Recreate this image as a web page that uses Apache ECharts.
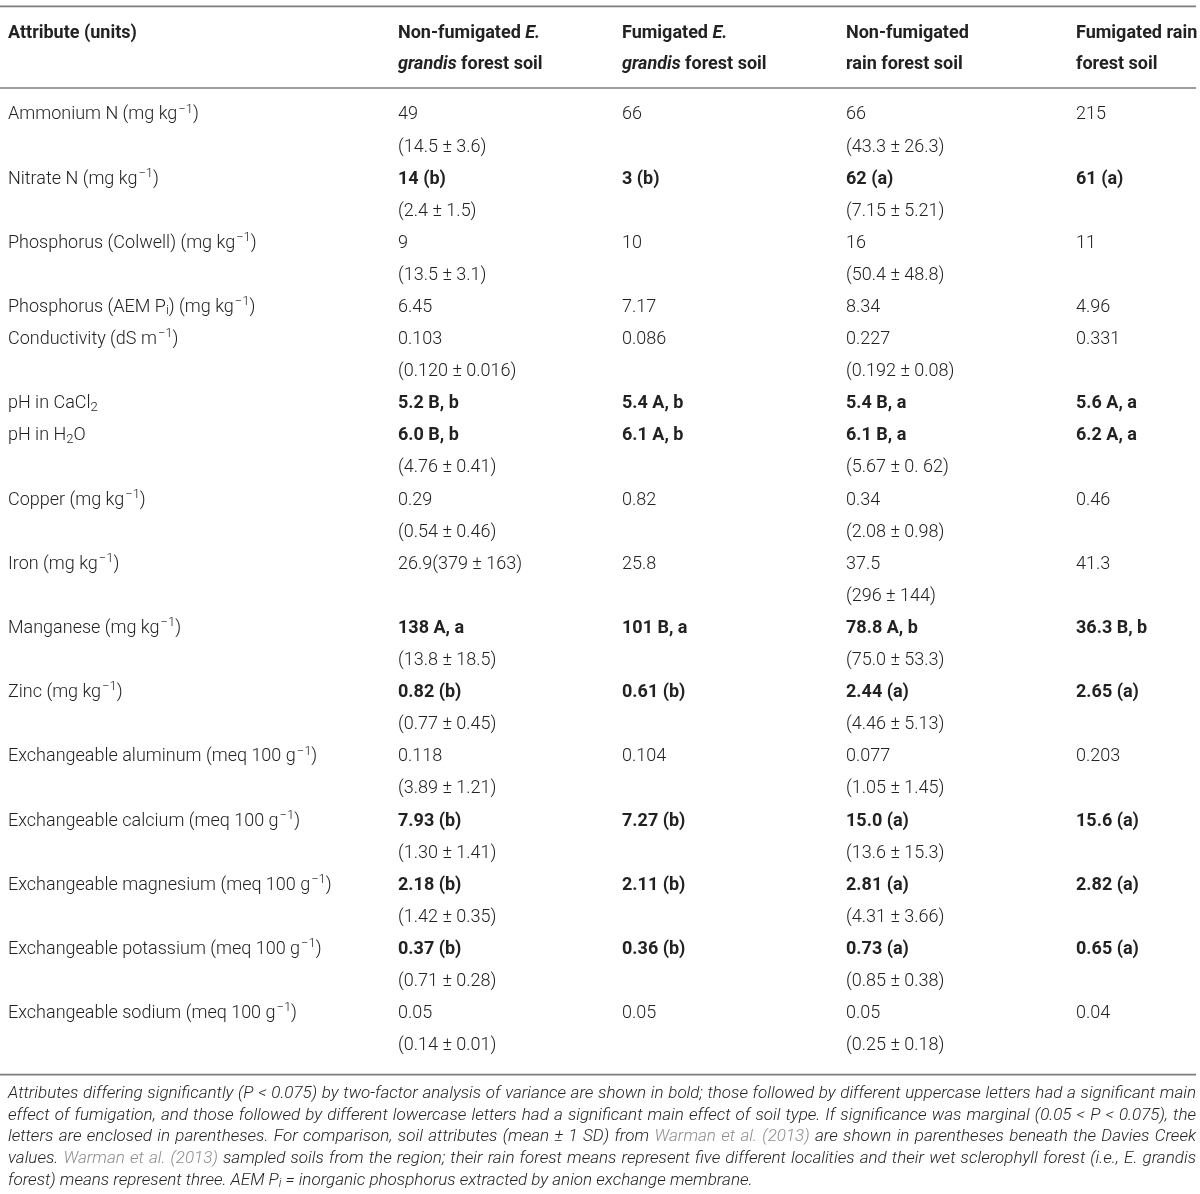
<!DOCTYPE html>
<html>
<head>
<meta charset="utf-8">
<script src="https://cdn.jsdelivr.net/npm/echarts@6/dist/echarts.min.js"></script>
<style>
  html, body { margin: 0; padding: 0; background: #fff; }
  #main { width: 1200px; height: 1194px; }
</style>
</head>
<body>
<div id="main"></div>
<script>
// markup: ^x^ superscript, _x_ subscript, *x* italic
var headers = ['Attribute (units)', 'Non-fumigated *E.*\n*grandis* forest soil', 'Fumigated *E.*\n*grandis* forest soil', 'Non-fumigated\nrain forest soil', 'Fumigated rain\nforest soil'];

var attributes = [
  'Ammonium N (mg kg^−1^)',
  'Nitrate N (mg kg^−1^)',
  'Phosphorus (Colwell) (mg kg^−1^)',
  'Phosphorus (AEM P_i_) (mg kg^−1^)',
  'Conductivity (dS m^−1^)',
  'pH in CaCl_2_',
  'pH in H_2_O',
  'Copper (mg kg^−1^)',
  'Iron (mg kg^−1^)',
  'Manganese (mg kg^−1^)',
  'Zinc (mg kg^−1^)',
  'Exchangeable aluminum (meq 100 g^−1^)',
  'Exchangeable calcium (meq 100 g^−1^)',
  'Exchangeable magnesium (meq 100 g^−1^)',
  'Exchangeable potassium (meq 100 g^−1^)',
  'Exchangeable sodium (meq 100 g^−1^)'
];

// rows shown in bold (significant)
var significant = [false, true, false, false, false, true, true, false, false, true, true, false, true, true, true, false];

var nonFumEuc = ['49', '14 (b)', '9', '6.45', '0.103', '5.2 B, b', '6.0 B, b', '0.29', '26.9(379 ± 163)', '138 A, a', '0.82 (b)', '0.118', '7.93 (b)', '2.18 (b)', '0.37 (b)', '0.05'];
var sdNonFumEuc = ['(14.5 ± 3.6)', '(2.4 ± 1.5)', '(13.5 ± 3.1)', '', '(0.120 ± 0.016)', '', '(4.76 ± 0.41)', '(0.54 ± 0.46)', '', '(13.8 ± 18.5)', '(0.77 ± 0.45)', '(3.89 ± 1.21)', '(1.30 ± 1.41)', '(1.42 ± 0.35)', '(0.71 ± 0.28)', '(0.14 ± 0.01)'];
var fumEuc = ['66', '3 (b)', '10', '7.17', '0.086', '5.4 A, b', '6.1 A, b', '0.82', '25.8', '101 B, a', '0.61 (b)', '0.104', '7.27 (b)', '2.11 (b)', '0.36 (b)', '0.05'];
var nonFumRain = ['66', '62 (a)', '16', '8.34', '0.227', '5.4 B, a', '6.1 B, a', '0.34', '37.5', '78.8 A, b', '2.44 (a)', '0.077', '15.0 (a)', '2.81 (a)', '0.73 (a)', '0.05'];
var sdNonFumRain = ['(43.3 ± 26.3)', '(7.15 ± 5.21)', '(50.4 ± 48.8)', '', '(0.192 ± 0.08)', '', '(5.67 ± 0. 62)', '(2.08 ± 0.98)', '(296 ± 144)', '(75.0 ± 53.3)', '(4.46 ± 5.13)', '(1.05 ± 1.45)', '(13.6 ± 15.3)', '(4.31 ± 3.66)', '(0.85 ± 0.38)', '(0.25 ± 0.18)'];
var fumRain = ['215', '61 (a)', '11', '4.96', '0.331', '5.6 A, a', '6.2 A, a', '0.46', '41.3', '36.3 B, b', '2.65 (a)', '0.203', '15.6 (a)', '2.82 (a)', '0.65 (a)', '0.04'];

// [text] = cited reference (grey)
var footLines = [
  'Attributes differing significantly (P < 0.075) by two-factor analysis of variance are shown in bold; those followed by different uppercase letters had a significant main',
  'effect of fumigation, and those followed by different lowercase letters had a significant main effect of soil type. If significance was marginal (0.05 < P < 0.075), the',
  'letters are enclosed in parentheses. For comparison, soil attributes (mean ± 1 SD) from [Warman et al. (2013)] are shown in parentheses beneath the Davies Creek',
  'values. [Warman et al. (2013)] sampled soils from the region; their rain forest means represent five different localities and their wet sclerophyll forest (i.e., E. grandis',
  'forest) means represent three. AEM P_i_ = inorganic phosphorus extracted by anion exchange membrane.'
];

// layout
var FONT = 'Roboto';
var SIZE = 18;
var INK = '#222';
var colX = [8, 398, 622, 846, 1076];
var headerY = [-2.53, -1.57];
var ruleY = [-3.38, -0.84, 29.9];
var footTop = 1094, footStep = 21.6, footLeft = 8, footRight = 1196, FOOT_SIZE = 17;

function toRich(s) {
  return s.replace(/\^([^^]+)\^/g, '{sup|$1}')
          .replace(/_([^_]+)_/g, '{sub|$1}')
          .replace(/\*([^*]+)\*/g, '{it|$1}');
}

function richFor(weight) {
  return {
    sup: { fontFamily: FONT, fontSize: 13, fontWeight: weight, fill: INK, padding: [0, 0, 11, 1] },
    sub: { fontFamily: FONT, fontSize: 13, fontWeight: weight, fill: INK, padding: [7, 0, 0, 0] },
    it: { fontFamily: FONT, fontSize: SIZE, fontWeight: 'bold', fontStyle: 'italic', fill: INK }
  };
}

var cells = [];
headers.forEach(function (h, c) {
  h.split('\n').forEach(function (t, k) {
    cells.push({ x: colX[c], y: headerY[k], text: t, weight: 'bold' });
  });
});
var line = 0;
attributes.forEach(function (a, r) {
  cells.push({ x: colX[0], y: line, text: a, weight: 300 });
  var vals = [nonFumEuc[r], fumEuc[r], nonFumRain[r], fumRain[r]];
  var sds = [sdNonFumEuc[r], '', sdNonFumRain[r], ''];
  vals.forEach(function (v, c) {
    cells.push({ x: colX[c + 1], y: line, text: v, weight: significant[r] ? 'bold' : 300 });
    if (sds[c]) cells.push({ x: colX[c + 1], y: line + 1, text: sds[c], weight: 300 });
  });
  line += (sdNonFumEuc[r] || sdNonFumRain[r]) ? 2 : 1;
});

// footnote, justified word by word
var ctx = document.createElement('canvas').getContext('2d');
function fnFont(size) { return 'italic 300 ' + size + 'px ' + FONT; }
var footEls = [];
footLines.forEach(function (ln, li) {
  var words = ln.split(' ');
  var inLink = false;
  var items = words.map(function (w) {
    var startLink = w.charAt(0) === '[';
    if (startLink) { inLink = true; w = w.slice(1); }
    var endLink = w.charAt(w.length - 1) === ']';
    if (endLink) w = w.slice(0, -1);
    var link = inLink;
    if (endLink) inLink = false;
    var width = 0, txt = '';
    w.split(/(_[^_]+_)/).forEach(function (seg) {
      if (!seg) return;
      if (seg.charAt(0) === '_' && seg.length > 2) {
        var t = seg.slice(1, -1);
        ctx.font = fnFont(12);
        width += ctx.measureText(t).width;
        txt += '{fsub|' + t + '}';
      } else {
        ctx.font = fnFont(FOOT_SIZE);
        width += ctx.measureText(seg).width;
        txt += link ? '{lk|' + seg + '}' : seg;
      }
    });
    return { txt: txt, w: width };
  });
  ctx.font = fnFont(FOOT_SIZE);
  var space = ctx.measureText(' ').width;
  var total = items.reduce(function (s, it) { return s + it.w; }, 0);
  var gap = li < footLines.length - 1 ? (footRight - footLeft - total) / (items.length - 1) : space;
  var x = footLeft;
  items.forEach(function (it) {
    footEls.push({
      type: 'text', x: x, y: footTop + li * footStep, silent: true,
      style: {
        text: it.txt, fill: INK, fontFamily: FONT, fontSize: FOOT_SIZE, fontStyle: 'italic', fontWeight: 300,
        verticalAlign: 'middle', align: 'left', lineHeight: 20,
        rich: {
          lk: { fill: '#8c8c8c', fontFamily: FONT, fontSize: FOOT_SIZE, fontStyle: 'italic', fontWeight: 300 },
          fsub: { fill: INK, fontFamily: FONT, fontSize: 12, fontStyle: 'italic', fontWeight: 300, padding: [7, 0, 0, 0] }
        }
      }
    });
    x += it.w + gap;
  });
});

var chart = echarts.init(document.getElementById('main'), null, { renderer: 'canvas' });
var option = {
  animation: false,
  backgroundColor: '#fff',
  grid: { left: 0, right: 0, top: 0, bottom: 0 },
  xAxis: { type: 'value', min: 0, max: 1200, show: false },
  yAxis: { type: 'value', min: -3.58, max: 33.62, inverse: true, show: false },
  graphic: footEls,
  series: [
    {
      type: 'custom',
      silent: true,
      data: ruleY.map(function (y) { return [0, 1196, y]; }),
      renderItem: function (params, api) {
        var a = api.coord([api.value(0), api.value(2)]);
        var b = api.coord([api.value(1), api.value(2)]);
        return { type: 'line', shape: { x1: a[0], y1: a[1], x2: b[0], y2: b[1] }, style: { stroke: '#7d7d7d', lineWidth: 1.6 } };
      }
    },
    {
      type: 'custom',
      silent: true,
      data: cells.map(function (c) { return [c.x, c.y]; }),
      renderItem: function (params, api) {
        var c = cells[params.dataIndex];
        var p = api.coord([api.value(0), api.value(1)]);
        return {
          type: 'text', x: p[0], y: p[1],
          style: {
            text: toRich(c.text), fill: INK, fontFamily: FONT, fontSize: SIZE, fontWeight: c.weight,
            align: 'left', verticalAlign: 'middle', lineHeight: 24,
            rich: richFor(c.weight)
          }
        };
      }
    }
  ]
};
chart.setOption(option);
</script>
</body>
</html>
